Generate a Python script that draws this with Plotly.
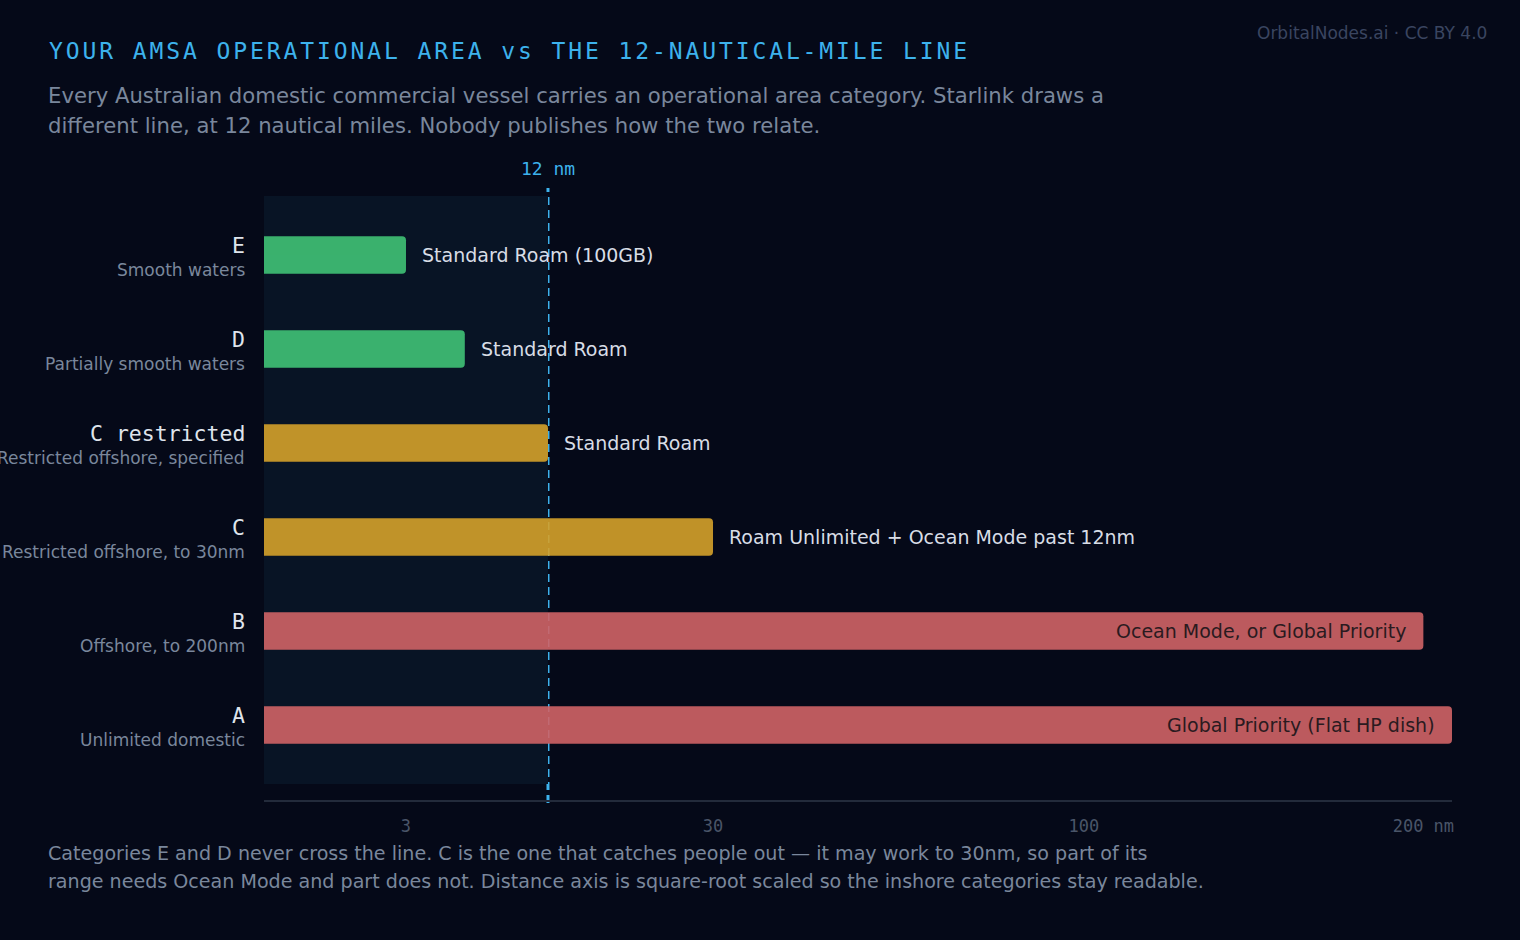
import math
import plotly.graph_objects as go

# ---- data ----
categories = ["E", "D", "C restricted", "C", "B", "A"]
descriptions = ["Smooth waters", "Partially smooth waters", "Restricted offshore, specified",
                "Restricted offshore, to 30nm", "Offshore, to 200nm", "Unlimited domestic"]
range_nm = [3, 6, 12, 30, 200, 210]
service = ["Standard Roam (100GB)", "Standard Roam", "Standard Roam",
           "Roam Unlimited + Ocean Mode past 12nm", "Ocean Mode, or Global Priority",
           "Global Priority (Flat HP dish)"]
label_inside = [False, False, False, False, True, True]
bar_colors = ["#40c276", "#40c276", "#d5a12a", "#d5a12a", "#d06366", "#d06366"]
tick_nm = [3, 30, 100, 200]
tick_text = ["3", "30", "100", "200 nm"]
line_nm = 12
axis_max_nm = 210
subtitle_lines = ["Every Australian domestic commercial vessel carries an operational area category. Starlink draws a",
                  "different line, at 12 nautical miles. Nobody publishes how the two relate."]
footer_lines = ["Categories E and D never cross the line. C is the one that catches people out — it may work to 30nm, so part of its",
                "range needs Ocean Mode and part does not. Distance axis is square-root scaled so the inshore categories stay readable."]

BG = "#050918"
BAND = "#081425"
BLUE = "#3db2ec"
GREY = "#7a879c"
MONO = "DejaVu Sans Mono"
SANS = "DejaVu Sans"

W, H = 1520, 940
L, R, T, B = 264, 1452, 196, 800


def py(p):
    return (B - p) / (B - T)


def px(p):
    return (p - L) / (R - L)


sq = [math.sqrt(v) for v in range_nm]
yidx = list(range(len(categories)))
ytop = -(255 - T) / 94.0
ybot = (B - 255) / 94.0

fig = go.Figure()
fig.add_trace(go.Bar(
    x=sq, y=yidx, orientation="h",
    marker=dict(color=bar_colors, line=dict(width=0)),
    opacity=0.9, width=0.4, hoverinfo="skip",
))

shapes = [
    dict(type="rect", xref="x", yref="y", x0=0, x1=math.sqrt(line_nm), y0=ytop, y1=(784 - 255) / 94.0,
         fillcolor=BAND, line=dict(width=0), layer="below"),
    dict(type="line", xref="x", yref="paper", x0=math.sqrt(line_nm), x1=math.sqrt(line_nm),
         y0=py(803), y1=py(188), line=dict(color=BLUE, width=3, dash="8px,5px"), layer="between"),
]

ann = []
ann.append(dict(xref="paper", yref="paper", x=px(47), y=py(51), xanchor="left", yanchor="middle",
                text='<span style="letter-spacing:2.9px">YOUR AMSA OPERATIONAL AREA vs THE 12-NAUTICAL-MILE LINE</span>',
                font=dict(family=MONO, size=23, color=BLUE), showarrow=False))
for k, line in enumerate(subtitle_lines):
    ann.append(dict(xref="paper", yref="paper", x=px(46), y=py(95 + 30 * k), xanchor="left", yanchor="middle",
                    text=line, font=dict(family=SANS, size=21.2, color=GREY), showarrow=False))
for k, line in enumerate(footer_lines):
    ann.append(dict(xref="paper", yref="paper", x=px(46), y=py(853 + 28 * k), xanchor="left", yanchor="middle",
                    text=line, font=dict(family=SANS, size=19.1, color=GREY), showarrow=False))
ann.append(dict(xref="paper", yref="paper", x=px(1489), y=py(33), xanchor="right", yanchor="middle",
                text="OrbitalNodes.ai · CC BY 4.0", font=dict(family=SANS, size=17, color="#3a4560"),
                showarrow=False))
ann.append(dict(xref="x", yref="paper", x=math.sqrt(line_nm), y=py(169), xanchor="center", yanchor="middle",
                text="12 nm", font=dict(family=MONO, size=18, color=BLUE), showarrow=False))

for i, (c, d) in enumerate(zip(categories, descriptions)):
    ann.append(dict(xref="paper", yref="y", x=px(247), y=i, yshift=10, xanchor="right", yanchor="middle",
                    text=c, font=dict(family=MONO, size=21.5, color="#dfe4ec"), showarrow=False))
    ann.append(dict(xref="paper", yref="y", x=px(247), y=i, yshift=-15, xanchor="right", yanchor="middle",
                    text=d, font=dict(family=SANS, size=17, color=GREY), showarrow=False))
    if label_inside[i]:
        ann.append(dict(xref="x", yref="y", x=sq[i], y=i, xshift=-15, xanchor="right", yanchor="middle",
                        text=service[i], font=dict(family=SANS, size=19, color="#2a1a20"), showarrow=False))
    else:
        ann.append(dict(xref="x", yref="y", x=sq[i], y=i, xshift=14, xanchor="left", yanchor="middle",
                        text=service[i], font=dict(family=SANS, size=19, color="#d8dde6"), showarrow=False))

fig.update_layout(
    width=W, height=H,
    paper_bgcolor=BG, plot_bgcolor=BG,
    margin=dict(l=L, r=W - R, t=T, b=H - B, autoexpand=False),
    showlegend=False,
    barcornerradius=4,
    shapes=shapes, annotations=ann,
    xaxis=dict(range=[0, math.sqrt(axis_max_nm)], tickvals=[math.sqrt(v) for v in tick_nm], ticktext=tick_text,
               showgrid=False, zeroline=False, showline=True, linecolor="#232b3b", linewidth=2,
               ticks="", ticklabelstandoff=10, tickfont=dict(family=MONO, size=17, color="#4a5568"),
               fixedrange=True),
    yaxis=dict(range=[ybot, ytop], showticklabels=False, showgrid=False, zeroline=False, showline=False,
               fixedrange=True),
)

fig.write_html("out.html", config={"displayModeBar": False},
               post_script="document.body.style.margin='0px';document.body.style.background='" + BG + "';")
